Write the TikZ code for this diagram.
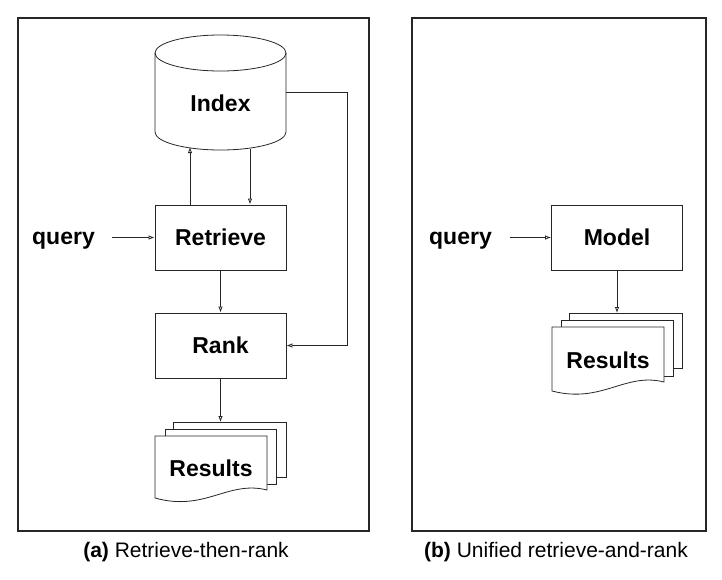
\documentclass[tikz,border=0pt]{standalone}
\usepackage{fontspec}
\setmainfont{Liberation Sans}
\usetikzlibrary{arrows.meta}
\begin{document}
\begin{tikzpicture}[x=1pt,y=-1pt,
  ln/.style={draw=black!85, line width=0.8pt},
  arr/.style={ln, -{Latex[length=6pt,width=4.5pt,open,fill=white]}},
  lbl/.style={font=\fontsize{23}{27}\selectfont\bfseries, inner sep=0pt, text height=16.5pt, text depth=0pt},
  boxst/.style={ln, fill=white, minimum width=131pt, minimum height=65pt, inner sep=0pt, text height=16.5pt, text depth=0pt, font=\fontsize{23}{27}\selectfont\bfseries},
  captxt/.style={font=\fontsize{21}{25}\selectfont, inner sep=0pt},
  framest/.style={draw=black!85, line width=1.1pt}]
\useasboundingbox (0,0) rectangle (722,579);
% frames
\draw[framest] (18,18) rectangle (369,531);
\draw[framest] (412,18) rectangle (706,531);
% cylinder (Index)
\draw[ln, fill=white] (155,53) -- (155,132) arc[start angle=180,end angle=0,x radius=65.5,y radius=18] -- (286,53);
\draw[ln] (220.5,53) ellipse[x radius=65.5,y radius=18];
\node[lbl] (index) at (220.5,103) {Index};
\coordinate (idxR) at (286,92);
\coordinate (idxB1) at (190,147);
\coordinate (idxB2) at (250,149);
% left boxes
\node[boxst] (retrieve) at (220.5,237.5) {Retrieve};
\node[boxst] (rank) at (220.5,345.5) {Rank};
\node[lbl, anchor=base, text height=, text depth=] (query1) at (63.5,244.5) {query};
% results stack left
\draw[ln, fill=white] (173,422) rectangle (286,477);
\draw[ln, fill=white] (165,429) rectangle (276,484);
\draw[ln, fill=white] (155,436) -- (267,436) -- (267,490) .. controls (228,480) and (205,512) .. (155,498) -- cycle;
\node[lbl] (results1) at (211,468) {Results};
% connectors left
\coordinate (q1s) at (112,237.5);
\draw[arr] (q1s) -- (retrieve.west);
\draw[arr] (retrieve.north -| idxB1) -- (idxB1);
\draw[arr] (idxB2) -- (retrieve.north -| idxB2);
\draw[arr] (retrieve.south) -- (rank.north);
\draw[arr] (idxR) -- (347,92) -- (347,345.5) -- (rank.east);
\draw[arr] (rank.south) -- (220.5,422);
% right panel
\node[boxst] (model) at (617,237.5) {Model};
\node[lbl, anchor=base, text height=, text depth=] (query2) at (460.5,244.5) {query};
\coordinate (q2s) at (510,237.5);
\draw[arr] (q2s) -- (model.west);
\draw[ln, fill=white] (569,313) rectangle (682,368);
\draw[ln, fill=white] (561,320) rectangle (673,376);
\draw[ln, fill=white] (552,327) -- (664,327) -- (664,382) .. controls (625,372) and (602,404) .. (552,391) -- cycle;
\node[lbl] (results2) at (608,360) {Results};
\draw[arr] (model.south) -- (617,313);
% captions
\node[captxt] (capa) at (186,552) {\textbf{(a)} Retrieve-then-rank};
\node[captxt] (capb) at (556,552) {\textbf{(b)} Unified retrieve-and-rank};
\end{tikzpicture}
\end{document}
